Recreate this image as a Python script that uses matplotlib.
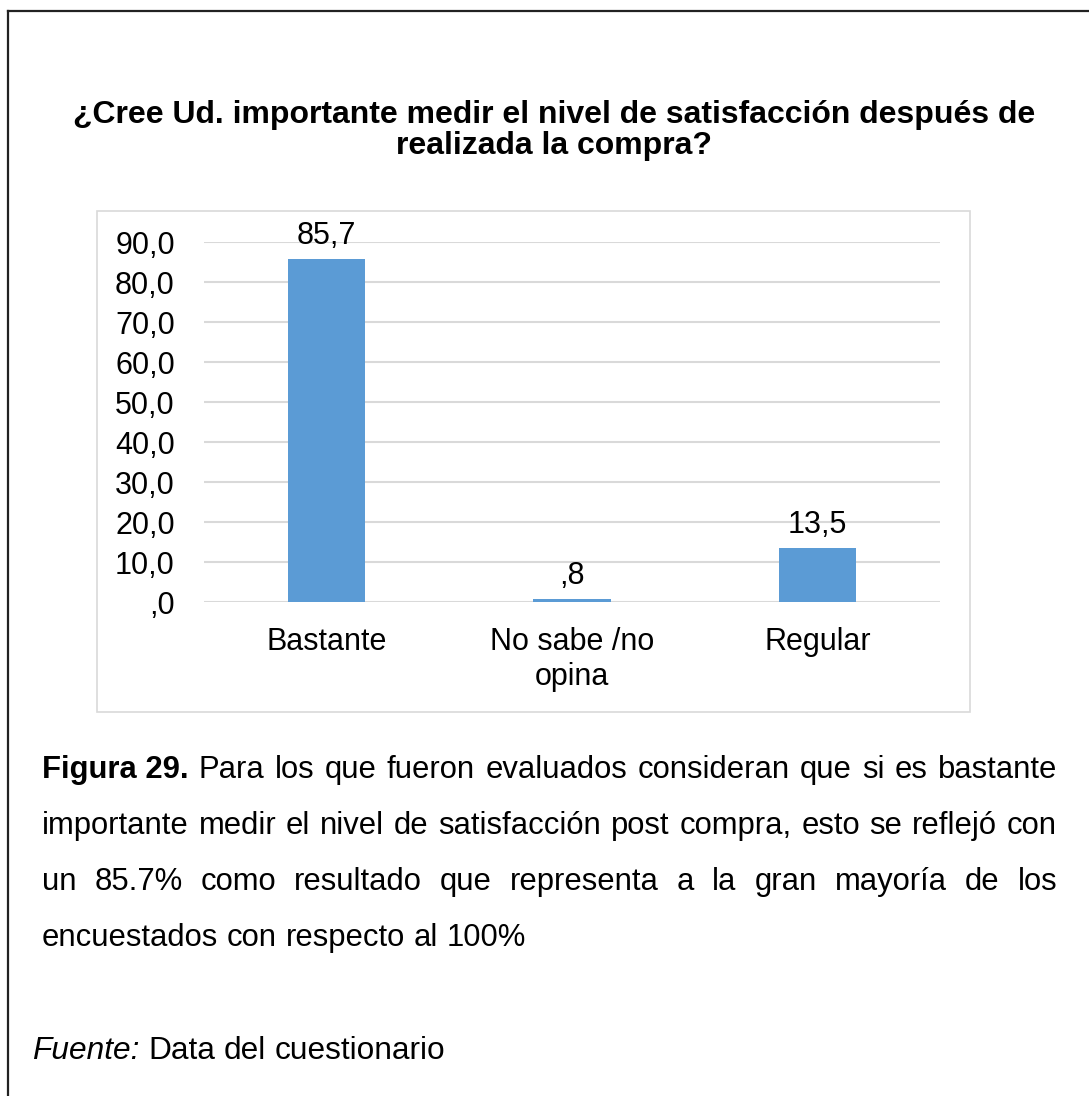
import matplotlib
matplotlib.use("Agg")
import matplotlib.pyplot as plt
from matplotlib.patches import Rectangle
from matplotlib.lines import Line2D
from matplotlib.transforms import IdentityTransform

plt.rcParams['font.family'] = ['Liberation Sans', 'DejaVu Sans']

# datos
categorias = ["Bastante", "No sabe /no\nopina", "Regular"]
porcentajes = [85.7, 0.8, 13.5]
marcas_y = [0, 10, 20, 30, 40, 50, 60, 70, 80, 90]

titulo = ["¿Cree Ud. importante medir el nivel de satisfacción después de",
          "realizada la compra?"]
nota = ["Para los que fueron evaluados consideran que si es bastante",
        "importante medir el nivel de satisfacción post compra, esto se reflejó con",
        "un 85.7% como resultado que representa a la gran mayoría de los",
        "encuestados con respecto al 100%"]
fuente = "Data del cuestionario"

W, H = 1089, 1096
fig = plt.figure(figsize=(W / 100, H / 100), dpi=100)
fig.patch.set_facecolor('white')
ident = IdentityTransform()


def px(x, y):
    # coordenadas de imagen (origen arriba) a pixeles de pantalla
    return x, H - y


def fmt(v):
    s = "{:.1f}".format(v).replace('.', ',')
    if s.startswith("0,"):
        s = s[1:]
    return s


# borde exterior
fig.add_artist(Line2D([8, W], [H - 11, H - 11], color='#222222', lw=1.6, transform=ident))
fig.add_artist(Line2D([8, 8], [H - 11, 0], color='#222222', lw=1.6, transform=ident))

# marco del grafico
x0, y0 = px(97, 712)
fig.add_artist(Rectangle((x0, y0), 970 - 97, 712 - 211, fill=False,
                         edgecolor='#d9d9d9', lw=1.2, transform=ident))

# titulo
for i, linea in enumerate(titulo):
    fig.text(*px(554, 123 + 31 * i), linea, transform=ident, ha='center',
             va='baseline', fontsize=23, fontweight='bold')

ax = fig.add_axes([204 / W, 1 - 602 / H, (940 - 204) / W, (602 - 242) / H])
pos = list(range(len(categorias)))
ax.bar(pos, porcentajes, width=0.314, color='#5b9bd5', zorder=3)
for p, v in zip(pos, porcentajes):
    ax.annotate(fmt(v), (p, v), xytext=(0, 11), textcoords='offset points',
                ha='center', va='baseline', fontsize=22)

ax.set_xlim(-0.5, 2.5)
ax.set_ylim(0, 90)
ax.set_yticks(marcas_y)
ax.set_yticklabels([fmt(t) for t in marcas_y])
ax.set_xticks(pos)
ax.set_xticklabels(categorias, linespacing=1.2)
ax.tick_params(axis='y', length=0, labelsize=22, pad=21)
ax.tick_params(axis='x', length=0, labelsize=22, pad=18)
ax.yaxis.grid(True, color='#d9d9d9', lw=1.5)
ax.set_axisbelow(True)
for s in ax.spines.values():
    s.set_visible(False)

# nota al pie, justificada
r = fig.canvas.get_renderer()


def linea_justificada(palabras, y, xa, xb, justificar=True, tam=22.3):
    objs = []
    for txt, peso, estilo in palabras:
        objs.append(fig.text(0, 0, txt, transform=ident, fontsize=tam,
                             fontweight=peso, style=estilo, va='baseline'))
    anchos = [o.get_window_extent(r).width for o in objs]
    if justificar and len(objs) > 1:
        hueco = (xb - xa - sum(anchos)) / (len(objs) - 1)
    else:
        hueco = fig.text(0, 0, ' ', fontsize=tam).get_window_extent(r).width
    x = xa
    for o, a in zip(objs, anchos):
        o.set_position(px(x, y))
        x += a + hueco


base = 778
for i, linea in enumerate(nota):
    palabras = [(w, 'normal', 'normal') for w in linea.split()]
    if i == 0:
        palabras = [("Figura 29.", 'bold', 'normal')] + palabras
    linea_justificada(palabras, base + 56 * i, 42, 1057, justificar=(i < len(nota) - 1))

linea_justificada([("Fuente:", 'normal', 'italic')] +
                  [(w, 'normal', 'normal') for w in fuente.split()],
                  1059, 32, 1057, justificar=False, tam=22.8)

fig.savefig("out.png", dpi=100)
